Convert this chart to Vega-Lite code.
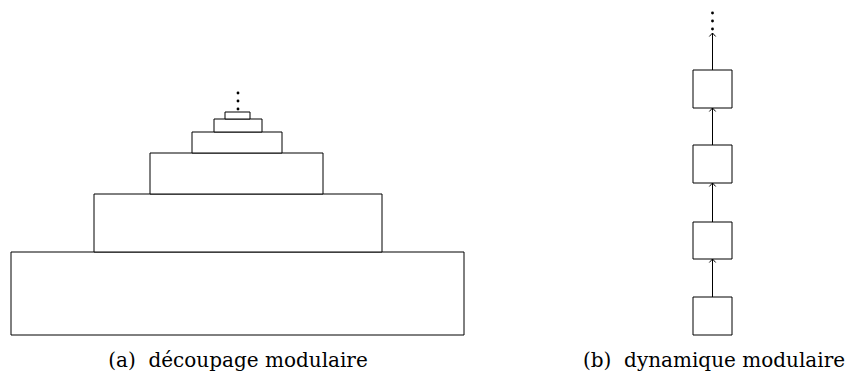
{
  "$schema": "https://vega.github.io/schema/vega-lite/v6.json",
  "width": 851,
  "height": 381,
  "padding": 0,
  "autosize": {"type": "fit", "contains": "padding"},
  "config": {"view": {"stroke": null}},
  "datasets": {
    "boxes": [
      {"x": 11, "x2": 464, "y": 252, "y2": 335},
      {"x": 94, "x2": 382, "y": 194, "y2": 252},
      {"x": 150, "x2": 323, "y": 153, "y2": 194},
      {"x": 192, "x2": 282, "y": 132, "y2": 153},
      {"x": 214, "x2": 262, "y": 119, "y2": 132},
      {"x": 225, "x2": 250, "y": 112, "y2": 119},
      {"x": 693, "x2": 732, "y": 70, "y2": 108},
      {"x": 693, "x2": 732, "y": 145, "y2": 183},
      {"x": 693, "x2": 732, "y": 222, "y2": 259},
      {"x": 693, "x2": 732, "y": 297, "y2": 335}
    ],
    "arrows": [
      {"x": 712.5, "y": 297, "y2": 259},
      {"x": 712.5, "y": 222, "y2": 183},
      {"x": 712.5, "y": 145, "y2": 108},
      {"x": 712.5, "y": 70, "y2": 33}
    ],
    "dots": [
      {"x": 238, "y": 93}, {"x": 238, "y": 101}, {"x": 238, "y": 109},
      {"x": 712.5, "y": 13}, {"x": 712.5, "y": 21}, {"x": 712.5, "y": 29}
    ],
    "captions": [
      {"x": 238, "y": 367, "label": "(a)\u00a0 découpage modulaire"},
      {"x": 714, "y": 367, "label": "(b)\u00a0 dynamique modulaire"}
    ]
  },
  "layer": [
    {
      "data": {"name": "boxes"},
      "mark": {"type": "rect", "fill": "white", "stroke": "black", "strokeWidth": 1},
      "encoding": {
        "x": {"field": "x", "type": "quantitative", "scale": {"domain": [0, 851], "nice": false, "zero": false}, "axis": null},
        "x2": {"field": "x2"},
        "y": {"field": "y", "type": "quantitative", "scale": {"domain": [0, 381], "nice": false, "zero": false, "reverse": true}, "axis": null},
        "y2": {"field": "y2"}
      }
    },
    {
      "data": {"name": "arrows"},
      "mark": {"type": "rule", "stroke": "black", "strokeWidth": 1},
      "encoding": {
        "x": {"field": "x", "type": "quantitative"},
        "y": {"field": "y", "type": "quantitative"},
        "y2": {"field": "y2"}
      }
    },
    {
      "data": {"name": "arrows"},
      "mark": {"type": "point", "shape": "M-1,1.1L0,0L1,1.1", "filled": false, "stroke": "black", "strokeWidth": 1, "size": 40, "opacity": 1},
      "encoding": {
        "x": {"field": "x", "type": "quantitative"},
        "y": {"field": "y2", "type": "quantitative"}
      }
    },
    {
      "data": {"name": "dots"},
      "mark": {"type": "circle", "color": "black", "size": 8, "opacity": 1},
      "encoding": {
        "x": {"field": "x", "type": "quantitative"},
        "y": {"field": "y", "type": "quantitative"}
      }
    },
    {
      "data": {"name": "captions"},
      "mark": {"type": "text", "font": "DejaVu Serif", "fontSize": 20, "align": "center", "baseline": "alphabetic", "color": "black"},
      "encoding": {
        "x": {"field": "x", "type": "quantitative"},
        "y": {"field": "y", "type": "quantitative"},
        "text": {"field": "label"}
      }
    }
  ]
}
